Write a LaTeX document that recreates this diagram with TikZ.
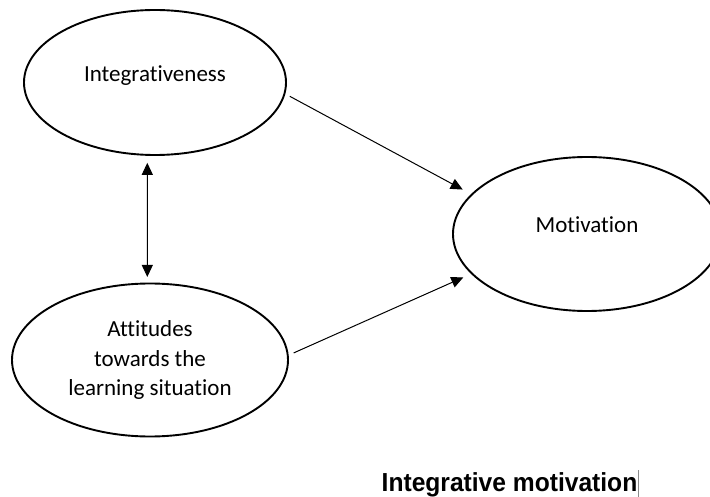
\documentclass[tikz,border=0pt]{standalone}
\usepackage{fontspec}
\setmainfont{Carlito}[Ligatures=NoCommon]
\newfontfamily\titlefont{Liberation Sans}
\usetikzlibrary{shapes.geometric,arrows.meta}

\begin{document}
\begin{tikzpicture}[x=1pt,y=-1pt,
  oval/.style={ellipse, draw, line width=1.9pt, inner sep=0pt},
  lbl/.style={font=\fontsize{23}{29.5}\selectfont, align=center, inner sep=0pt, anchor=base},
  link/.style={line width=1pt, -{Triangle[length=12pt,width=11pt]}},
  twoway/.style={line width=1pt, {Triangle[length=12pt,width=11pt]}-{Triangle[length=12pt,width=11pt]}}]
\useasboundingbox (0,0) rectangle (710,497);
\clip (0,0) rectangle (710,497);
\fill[white] (0,0) rectangle (710,497);

% the three constructs
\node[oval, minimum width=262pt, minimum height=145pt] (integ) at (155,82.5) {};
\node[oval, minimum width=268pt, minimum height=154pt] (motiv) at (587,234) {};
\node[oval, minimum width=276pt, minimum height=153pt] (attit) at (150,360) {};

% labels (base anchor sits on the last line)
\node[lbl] (integtxt) at (155,82) {Integrativeness};
\node[lbl] (motivtxt) at (587,232.7) {Motivation};
\node[lbl] (attittxt) at (150,395.5) {Attitudes\\towards the\\learning situation};

% paths between constructs
\draw[link, shorten <=5pt, shorten >=9.5pt] (integ.-5.35) -- (motiv.161.45);
\draw[link, shorten <=5.5pt, shorten >=8.5pt] (attit.2.58) -- (motiv.-161.2);
\draw[twoway, shorten <=7pt, shorten >=5.6pt] (integ.-96.3) -- (attit.92.2);

% caption
\node[font=\titlefont\bfseries\fontsize{24.6}{28}\selectfont, inner sep=0pt, anchor=base] (title) at (509.5,491.5) {\scalebox{1}[1.06]{Integrative motivation}};
\coordinate (cursortop) at (638,470);
\coordinate (cursorbot) at (638,497);
\draw[black!45, line width=0.8pt] (cursortop) -- (cursorbot);
\end{tikzpicture}
\end{document}
